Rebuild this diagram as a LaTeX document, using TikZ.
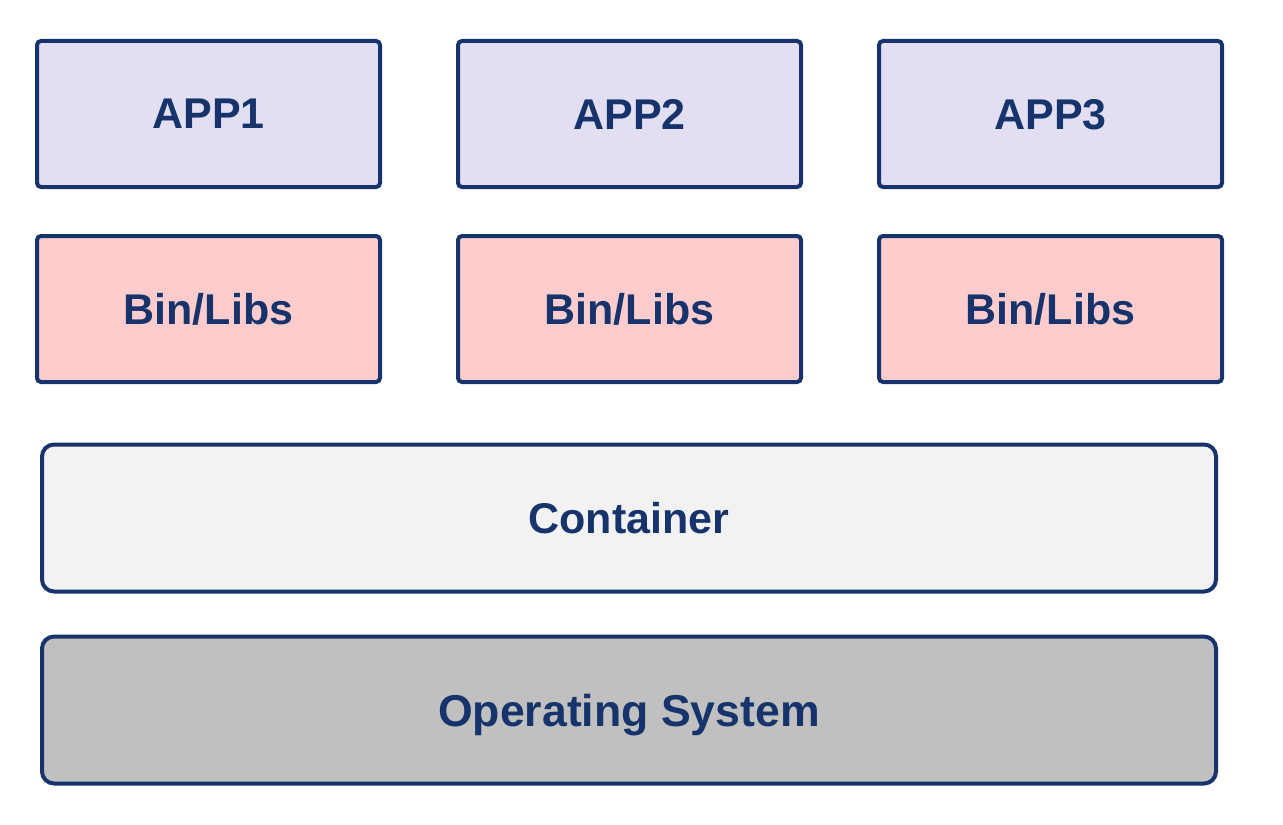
\documentclass[tikz,border=0pt]{standalone}
\usepackage{fontspec}
\setmainfont{Liberation Sans}
\definecolor{inkblue}{HTML}{16346B}
\definecolor{appfill}{HTML}{E3DFF3}
\definecolor{libfill}{HTML}{FFCCCD}
\definecolor{ctrfill}{HTML}{F2F2F2}
\definecolor{osfill}{HTML}{C0C0C0}
\tikzset{
	layer/.style={draw=inkblue, line width=2pt, rounded corners=2pt, text=inkblue,
		font=\fontsize{21.5}{24}\selectfont\bfseries, inner sep=0pt, text depth=0pt},
	appbox/.style={layer, fill=appfill, minimum width=171.5pt, minimum height=73pt},
	libbox/.style={layer, fill=libfill, minimum width=171.5pt, minimum height=73pt},
	widebox/.style={layer, rounded corners=6pt, minimum width=587pt, minimum height=73.5pt}
}
\begin{document}
\begin{tikzpicture}[x=0.5pt, y=-0.5pt]
		\useasboundingbox (0,0) rectangle (1283,824);
		\node[appbox] (app1) at (208.5,114) {APP1};
		\node[appbox] (app2) at (629.5,114) {APP2};
		\node[appbox] (app3) at (1050.5,114) {APP3};	% Apps row
		\node[libbox] (lib1) at (208.5,309) {Bin/Libs};
		\node[libbox] (lib2) at (629.5,309) {Bin/Libs};
		\node[libbox] (lib3) at (1050.5,309) {Bin/Libs};	% Libraries row
		\node[widebox, fill=ctrfill] (ctr) at (629,518) {Container};
		\node[widebox, fill=osfill, font=\fontsize{22.3}{25}\selectfont\bfseries] (os) at (629,710) {Operating System};
	\end{tikzpicture}
\end{document}
